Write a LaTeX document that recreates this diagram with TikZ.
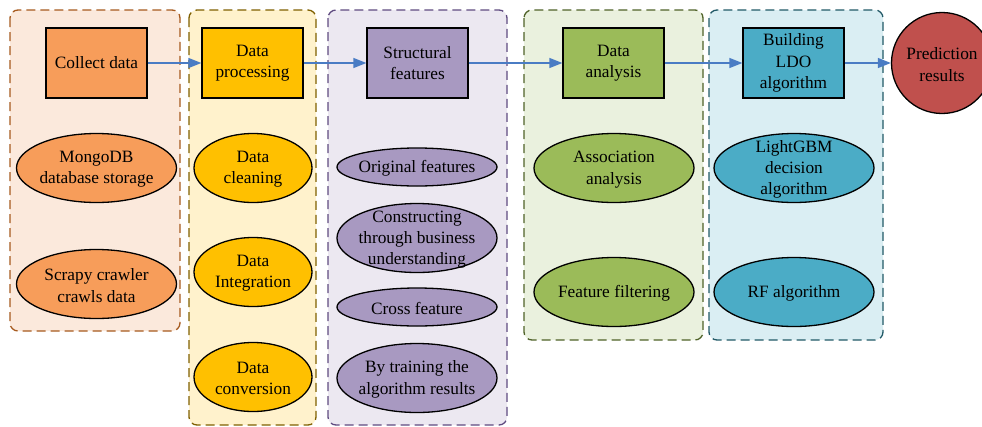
\documentclass[tikz,border=0pt]{standalone}
\usepackage{fontspec}
\setmainfont{Liberation Serif}
\usetikzlibrary{shapes.geometric,arrows.meta}

\definecolor{orgFill}{HTML}{F79D5A}
\definecolor{orgBg}{HTML}{FBE9DC}
\definecolor{orgLine}{HTML}{A65A1E}
\definecolor{ylwFill}{HTML}{FFC000}
\definecolor{ylwBg}{HTML}{FFF2CC}
\definecolor{ylwLine}{HTML}{7F6000}
\definecolor{prpFill}{HTML}{A899C1}
\definecolor{prpBg}{HTML}{ECE8F1}
\definecolor{prpLine}{HTML}{5F4B80}
\definecolor{grnFill}{HTML}{9BBB59}
\definecolor{grnBg}{HTML}{EAF1DE}
\definecolor{grnLine}{HTML}{4F6228}
\definecolor{bluFill}{HTML}{4BACC6}
\definecolor{bluBg}{HTML}{DAEEF3}
\definecolor{bluLine}{HTML}{215967}
\definecolor{redFill}{HTML}{C0504D}
\definecolor{flow}{HTML}{4A7CC4}

\tikzset{
  txt/.style={font=\fontsize{17.3}{21.3}\selectfont, align=center, inner sep=0pt},
  lbl/.style={txt, yshift=-1.5pt},
  group/.style={draw, dashed, dash pattern=on 9pt off 5pt, line width=1.3pt, rounded corners=8pt},
  stage/.style={txt, draw=black, line width=1.3pt, rectangle, minimum width=101pt, minimum height=70pt},
  oval/.style={draw=black, line width=1.3pt, ellipse, inner sep=0pt},
  bigoval/.style={oval, minimum width=160pt, minimum height=69pt},
  midoval/.style={oval, minimum width=118pt, minimum height=69pt},
  flatoval/.style={oval, minimum width=160pt, minimum height=38pt},
  flowarrow/.style={draw=flow, line width=1.4pt, -{Triangle[length=13pt,width=10pt]}}
}

\begin{document}
\begin{tikzpicture}[x=1pt,y=-1pt]
  \useasboundingbox (0,0) rectangle (982,426);
  \clip (0,0) rectangle (982,426);

  % stage groups
  \path[group, draw=orgLine, fill=orgBg] (10,10) rectangle (180,331);
  \path[group, draw=ylwLine, fill=ylwBg] (189,10) rectangle (316,425);
  \path[group, draw=prpLine, fill=prpBg] (328,10) rectangle (507,425);
  \path[group, draw=grnLine, fill=grnBg] (524,10) rectangle (703,340);
  \path[group, draw=bluLine, fill=bluBg] (709,10) rectangle (883,340);

  % main pipeline
  \node[stage, fill=orgFill] (collect) at (96.5,63) {Collect data};
  \node[stage, fill=ylwFill] (process) at (252.5,63) {Data\\processing};
  \node[stage, fill=prpFill] (struct) at (417.5,63) {Structural\\features};
  \node[stage, fill=grnFill] (analysis) at (613.5,63) {Data\\analysis};
  \node[stage, fill=bluFill] (ldo) at (793.5,63) {Building\\LDO\\algorithm};
  \node[oval, circle, fill=redFill, minimum size=101pt] (pred) at (942,63) {};
  \node[lbl] (predtxt) at (pred) {Prediction\\results};

  \draw[flowarrow] (collect.east) -- (process.west);
  \draw[flowarrow] (process.east) -- (struct.west);
  \draw[flowarrow] (struct.east) -- (analysis.west);
  \draw[flowarrow] (analysis.east) -- (ldo.west);
  \draw[flowarrow] (ldo.east) -- (pred.west);

  % collection details
  \node[bigoval, fill=orgFill, label={[lbl]center:MongoDB\\database storage}] (mongo) at (96.5,168) {};
  \node[bigoval, fill=orgFill, label={[lbl]center:Scrapy crawler\\crawls data}] (scrapy) at (96.5,284) {};

  % processing details
  \node[midoval, fill=ylwFill, label={[lbl]center:Data\\cleaning}] (clean) at (253,168) {};
  \node[midoval, fill=ylwFill, label={[lbl]center:Data\\Integration}] (integr) at (253,272) {};
  \node[midoval, fill=ylwFill, label={[lbl]center:Data\\conversion}] (conv) at (253,377) {};

  % feature details
  \node[flatoval, fill=prpFill, label={[lbl]center:Original features}] (orig) at (417,167) {};
  \node[bigoval, fill=prpFill, label={[lbl]center:Constructing\\through business\\understanding}] (business) at (417,238) {};
  \node[flatoval, fill=prpFill, label={[lbl]center:Cross feature}] (cross) at (417,307) {};
  \node[bigoval, fill=prpFill, label={[lbl]center:By training the\\algorithm results}] (training) at (417,378) {};

  % analysis details
  \node[bigoval, fill=grnFill, label={[lbl]center:Association\\analysis}] (assoc) at (614,168) {};
  \node[bigoval, fill=grnFill, label={[lbl]center:Feature filtering}] (filter) at (614,292) {};

  % algorithm details
  \node[bigoval, fill=bluFill, label={[lbl]center:LightGBM\\decision\\algorithm}] (lgbm) at (794,168) {};
  \node[bigoval, fill=bluFill, label={[lbl]center:RF algorithm}] (rf) at (794,292) {};
\end{tikzpicture}
\end{document}
